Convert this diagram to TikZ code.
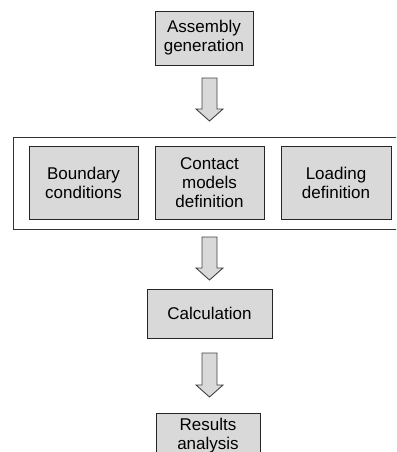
\documentclass[tikz,border=0pt]{standalone}
\usepackage{fontspec}
\setmainfont{Liberation Sans}
\usetikzlibrary{calc}
\begin{document}
\begin{tikzpicture}[x=1pt,y=1pt]
 \tikzset{stage/.style = {draw=black!85, fill=gray!30, line width=0.9pt, align=center, inner sep=0pt, font=\fontsize{17}{19}\selectfont}}
 \tikzset{frame/.style = {draw=black!80, line width=0.9pt, inner sep=0pt}}
 \tikzset{flowarrow/.style = {draw=black!75, fill=gray!30, line width=0.9pt, line join=miter}}
 \def\shaft{7.5}
 \def\headw{13.5}
 \def\headlen{12}
 \def\blkarrow#1#2{\draw[flowarrow] ($(#1)+(-\shaft,0)$) -- ($(#2)+(-\shaft,\headlen)$) -- ($(#2)+(-\headw,\headlen)$) -- (#2) -- ($(#2)+(\headw,\headlen)$) -- ($(#2)+(\shaft,\headlen)$) -- ($(#1)+(\shaft,0)$) -- cycle;}

 \useasboundingbox (0,0) rectangle (396,-452);
 \clip (0,0) rectangle (396,-452);

 % first stage
 \node[stage, minimum width=98pt, minimum height=54pt] (asm) at (204,-38) {Assembly\\generation};

 % set-up stage
 \node[frame, minimum width=389pt, minimum height=92pt] (setup) at (207.5,-183) {};
 \node[stage, minimum width=109pt, minimum height=73pt] (bc) at (83.5,-182.5) {Boundary\\conditions};
 \node[stage, minimum width=109pt, minimum height=73pt] (cm) at (209.5,-182.5) {Contact\\models\\definition};
 \node[stage, minimum width=110pt, minimum height=73pt] (ld) at (336,-182.5) {Loading\\definition};

 % solving and post-processing
 \node[stage, minimum width=125pt, minimum height=49pt] (calc) at (209.5,-313.5) {Calculation};
 \node[stage, minimum width=104pt, minimum height=46pt] (res) at (208,-436) {Results\\analysis};

 \coordinate (a1s) at (209.5,-78);
 \coordinate (a1e) at (209.5,-121);
 \coordinate (a2s) at (209.5,-237);
 \coordinate (a2e) at (209.5,-280);
 \coordinate (a3s) at (209.5,-353);
 \coordinate (a3e) at (209.5,-397);
 \blkarrow{a1s}{a1e}
 \blkarrow{a2s}{a2e}
 \blkarrow{a3s}{a3e}

\end{tikzpicture}
\end{document}
